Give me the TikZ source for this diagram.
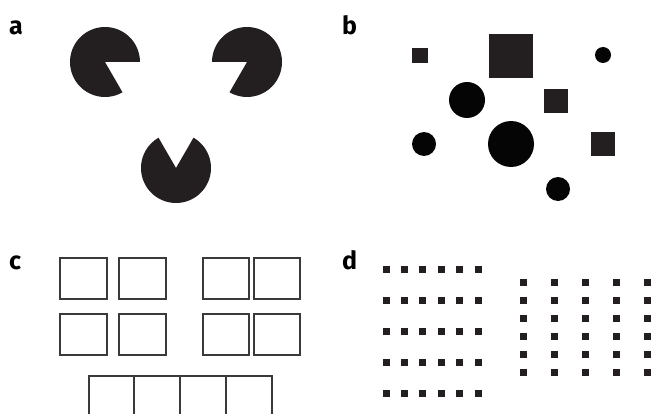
\documentclass[tikz,border=0pt]{standalone}
\usepackage{fontspec}
\setmainfont{Fira Sans}
\usepackage{tikz}
\definecolor{tinta}{HTML}{231F20}
\definecolor{negro}{HTML}{050505}
\definecolor{trazo}{HTML}{3A3A3A}
\tikzset{
  letra/.style={anchor=base west, inner sep=0pt, font=\fontsize{25}{25}\selectfont\bfseries},
  pacman/.style={fill=tinta},
  cuadro/.style={fill=tinta},
  disco/.style={fill=negro},
  celda/.style={draw=trazo, line width=1.6pt},
  punto/.style={fill=tinta}
}
\begin{document}
\begin{tikzpicture}[x=1pt, y=-1pt]
  \useasboundingbox (0,0) rectangle (652,414);
  \clip (0,0) rectangle (652,414);
  % etiquetas
  \node (la) [letra] at (9,35) {a};
  \node (lb) [letra] at (342,35) {b};
  \node (lc) [letra] at (9,269) {c};
  \node (ld) [letra] at (342,269) {d};
  % a: triangulo ilusorio
  \fill [pacman] (105,62) -- ++(60:35) arc[start angle=60, end angle=360, radius=35] -- cycle;
  \fill [pacman] (247,62) -- ++(180:35) arc[start angle=180, end angle=480, radius=35] -- cycle;
  \fill [pacman] (176,168) -- ++(300:35) arc[start angle=300, end angle=600, radius=35] -- cycle;
  % b: cuadrados y circulos
  \fill [cuadro] (412,48) rectangle (428,63);
  \fill [cuadro] (489,34) rectangle (533,78);
  \fill [cuadro] (544,89) rectangle (568,113);
  \fill [cuadro] (591,132) rectangle (615,156);
  \fill [disco] (603,55) circle (8);
  \fill [disco] (467,100) circle (18);
  \fill [disco] (424,144) circle (12);
  \fill [disco] (511,144) circle (23);
  \fill [disco] (558,189) circle (12);
  % c: celdas
  \foreach \xa/\xb in {60/107, 119/166, 203/249, 254/300}
    \foreach \ya/\yb in {258/299, 314/355}
      \draw [celda] (\xa,\ya) rectangle (\xb,\yb);
  \draw [celda] (89,376) rectangle (272,430);
  \foreach \xd in {134, 180, 226}
    \draw [celda] (\xd,376) -- (\xd,430);
  % d: puntos
  \foreach \i in {0,...,5}
    \foreach \j in {0,...,4}
      \fill [punto] ({386+18.4*\i-3.5},{269+31.2*\j-3.5}) rectangle ++(7,7);
  \foreach \i in {0,...,4}
    \foreach \j in {0,...,5}
      \fill [punto] ({523+31*\i-3.5},{282+18*\j-3.5}) rectangle ++(7,7);
\end{tikzpicture}
\end{document}
